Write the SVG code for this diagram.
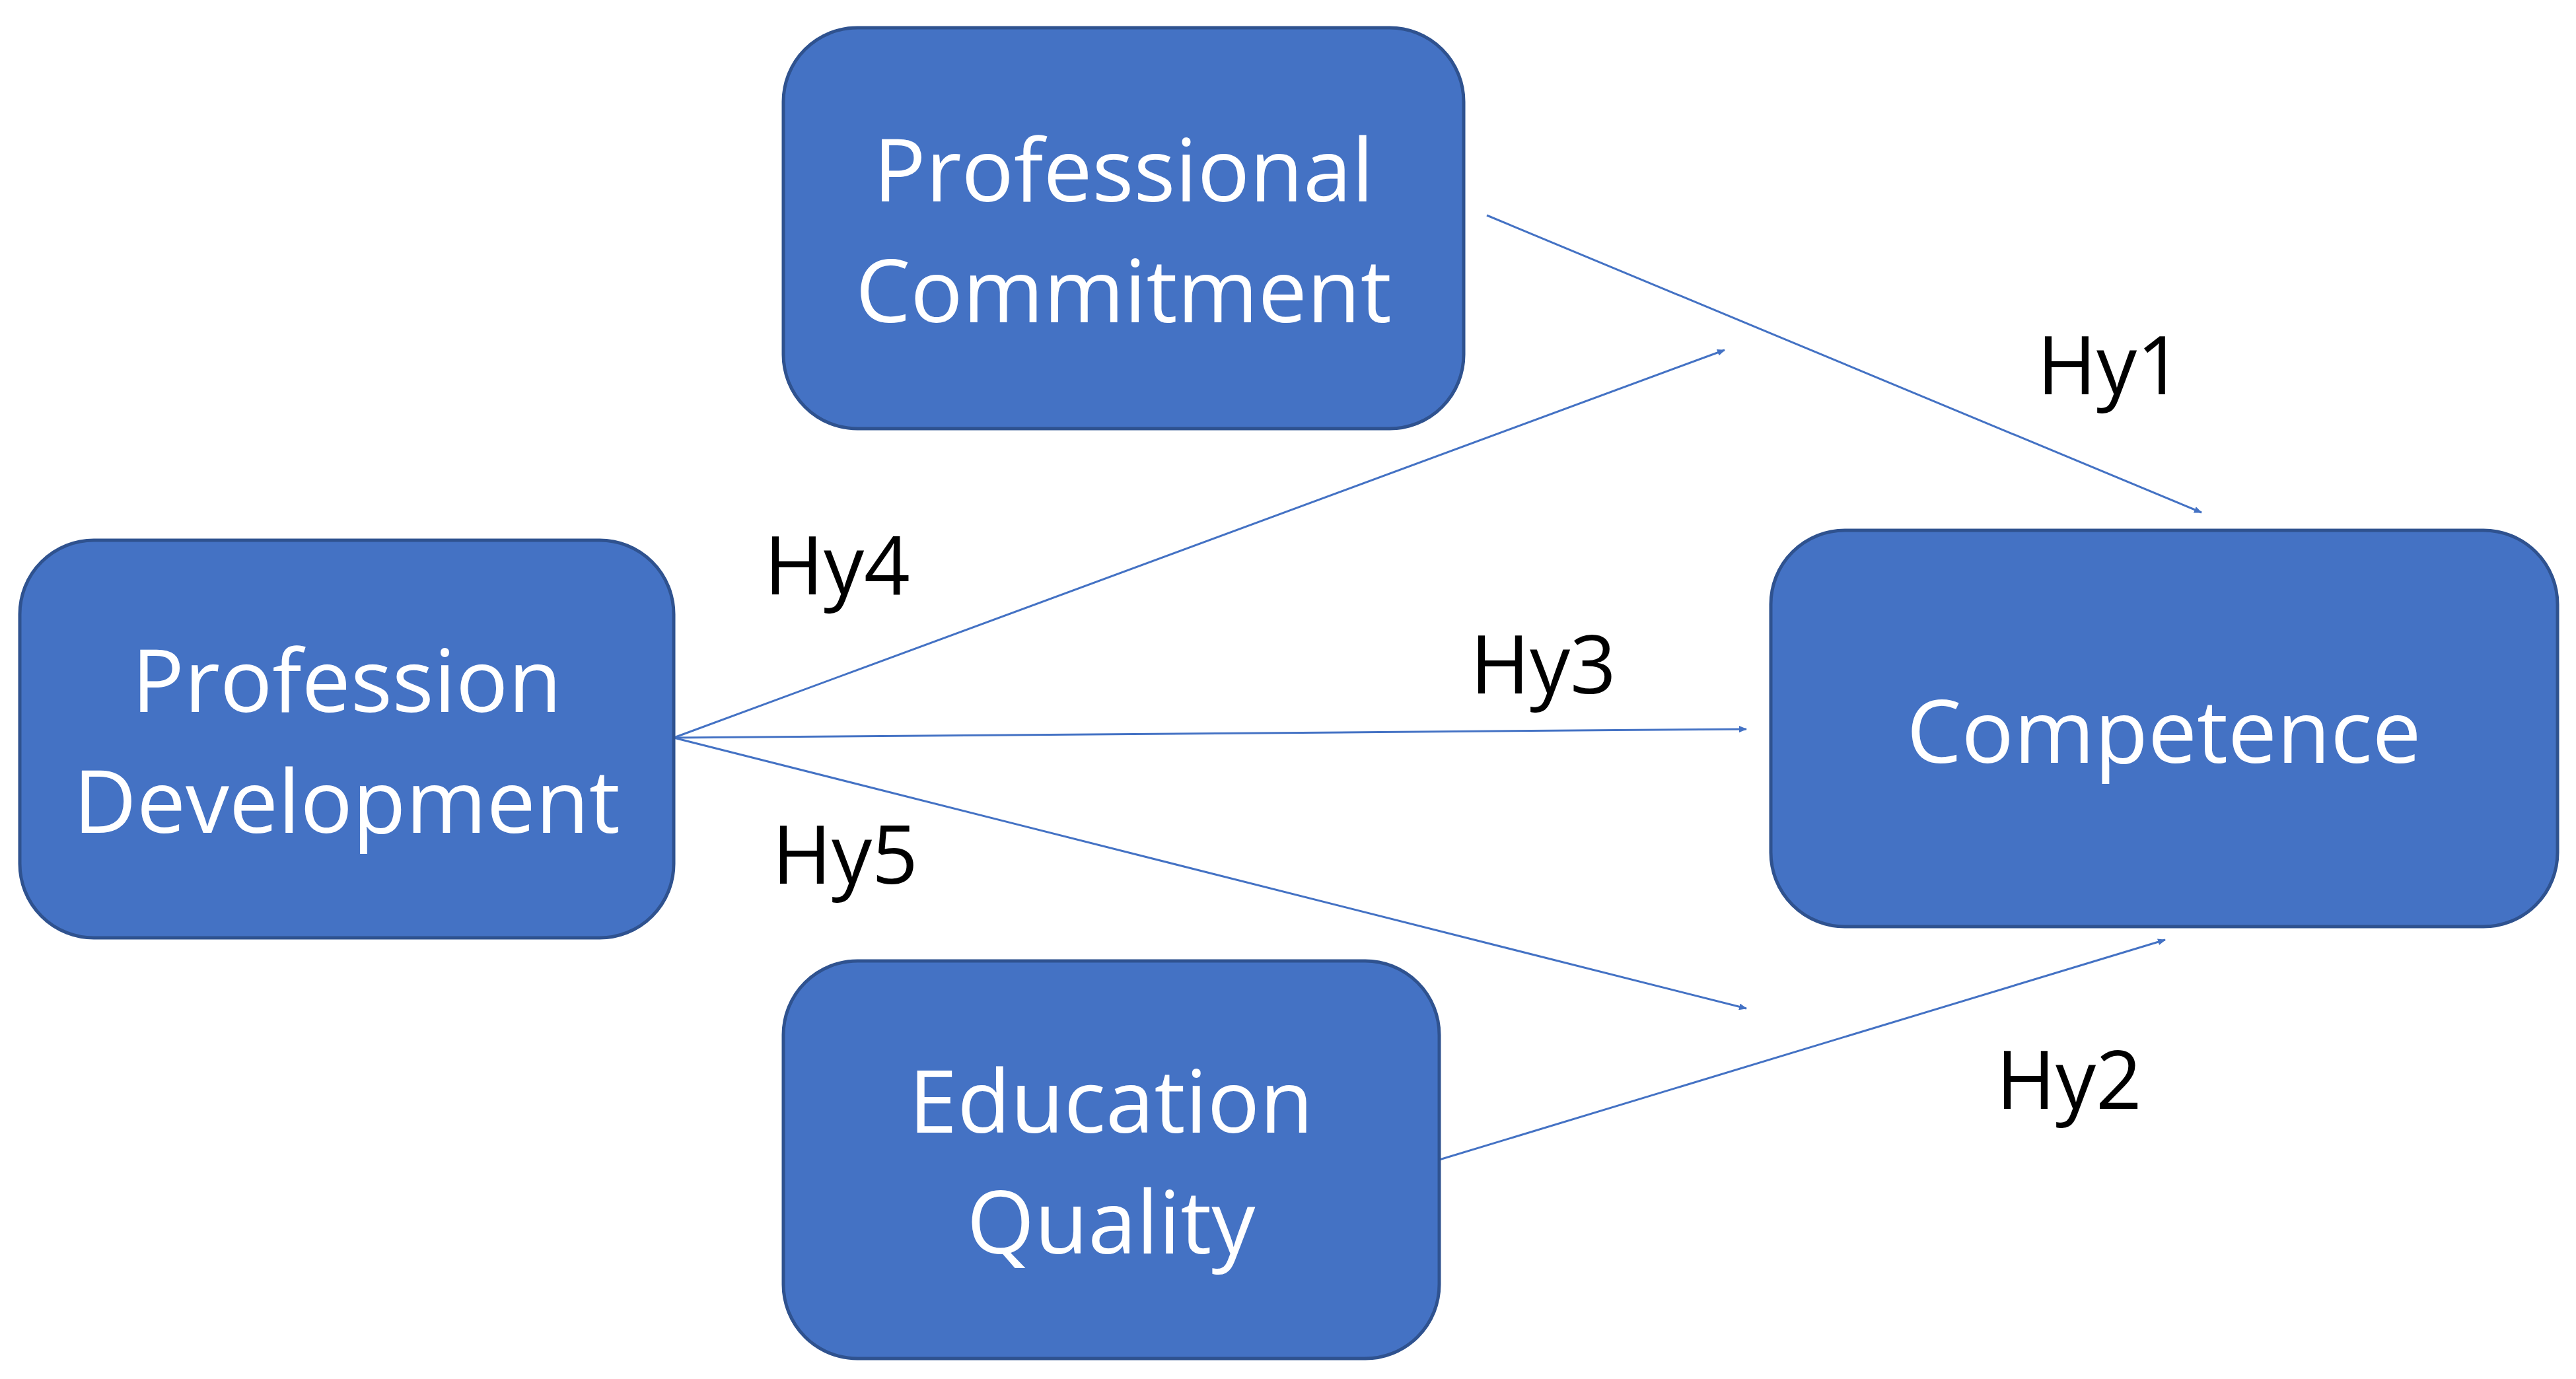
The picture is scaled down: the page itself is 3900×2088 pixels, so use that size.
<svg xmlns="http://www.w3.org/2000/svg" width="3900" height="2088" viewBox="0 0 3900 2088">
<style>
.box{fill:#4472C4;stroke:#2F528F;stroke-width:5}
.t{font-family:"Open Sans","Liberation Sans",sans-serif;font-size:132px;fill:#fff;text-anchor:middle}
.l{font-family:"Open Sans","Liberation Sans",sans-serif;font-size:122px;fill:#000}
.c{stroke:#4472C4;stroke-width:3;fill:none;marker-end:url(#a)}
</style>
<defs><marker id="a" markerWidth="12" markerHeight="10" refX="11" refY="5" orient="auto" markerUnits="userSpaceOnUse" viewBox="0 0 12 10"><path d="M0,0L12,5L0,10z" fill="#4472C4"/></marker>
<marker id="a" viewBox="0 0 12 10" refX="11" refY="5" markerWidth="36" markerHeight="30" orient="auto" markerUnits="userSpaceOnUse"><path d="M0,0L12,5L0,10z" fill="#4472C4"/></marker></defs>
<rect width="3900" height="2088" fill="#fff"/>
<g id="connectors">
<line class="c" x1="2251" y1="326" x2="3333" y2="776"/>
<line class="c" x1="1020" y1="1117" x2="2611" y2="530"/>
<line class="c" x1="1020" y1="1117" x2="2644" y2="1104"/>
<line class="c" x1="1020" y1="1117" x2="2644" y2="1527"/>
<line class="c" x1="2179" y1="1756" x2="3278" y2="1423"/>
<text class="l" x="3084" y="597">Hy1</text>
<text class="l" x="1157" y="900">Hy4</text>
<text class="l" x="2226" y="1050">Hy3</text>
<text class="l" x="1169" y="1338">Hy5</text>
<text class="l" x="3022" y="1679">Hy2</text>
</g>
<g id="commitment"><rect class="box" x="1186" y="42" width="1030" height="607" rx="112"/>
<text class="t" x="1701" y="305">Professional</text><text class="t" x="1701" y="488">Commitment</text></g>
<g id="development"><rect class="box" x="30" y="818" width="990" height="602" rx="112"/>
<text class="t" x="525" y="1078">Profession</text><text class="t" x="525" y="1261">Development</text></g>
<g id="competence"><rect class="box" x="2681" y="803" width="1191" height="600" rx="112"/>
<text class="t" x="3276" y="1155">Competence</text></g>
<g id="quality"><rect class="box" x="1186" y="1455" width="993" height="602" rx="112"/>
<text class="t" x="1682" y="1715">Education</text><text class="t" x="1682" y="1898">Quality</text></g>
</svg>
